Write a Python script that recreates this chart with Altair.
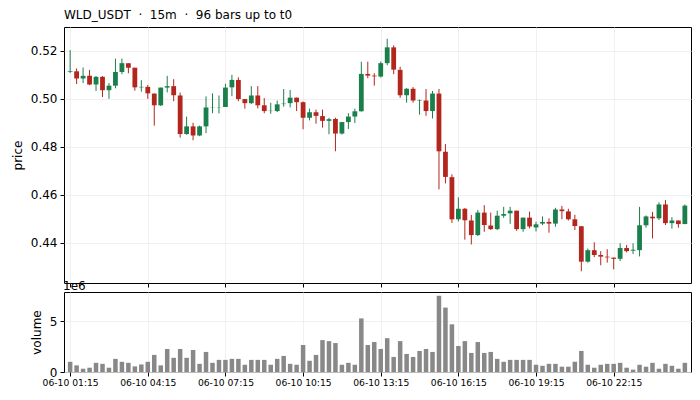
import altair as alt
import pandas as pd

NB = "\u00a0"
title_text = "WLD_USDT" + NB * 2 + "\u00b7" + NB * 2 + "15m" + NB * 2 + "\u00b7" + NB * 2 + "96 bars up to t0"

opens = [0.5112, 0.5115, 0.5085, 0.5096, 0.5060, 0.5092, 0.5036, 0.5055, 0.5112, 0.5149,
         0.5130, 0.5048, 0.5050, 0.5022, 0.4973, 0.5047, 0.5053, 0.5014, 0.4853, 0.4885,
         0.4847, 0.4885, 0.4964, 0.4965, 0.4966, 0.5048, 0.5079, 0.4999, 0.4982, 0.5014,
         0.4973, 0.4949, 0.4949, 0.4978, 0.4982, 0.5005, 0.4986, 0.4921, 0.4944, 0.4928,
         0.4908, 0.4916, 0.4855, 0.4903, 0.4926, 0.4948, 0.5104, 0.5097, 0.5093, 0.5149,
         0.5215, 0.5121, 0.5015, 0.5042, 0.4993, 0.4993, 0.4949, 0.5022, 0.4779, 0.4673,
         0.4497, 0.4541, 0.4492, 0.4431, 0.4525, 0.4471, 0.4456, 0.4512, 0.4522, 0.4533,
         0.4456, 0.4504, 0.4463, 0.4479, 0.4486, 0.4479, 0.4538, 0.4530, 0.4497, 0.4468,
         0.4320, 0.4368, 0.4348, 0.4341, 0.4337, 0.4332, 0.4377, 0.4366, 0.4368, 0.4472,
         0.4508, 0.4501, 0.4559, 0.4481, 0.4492, 0.4477]
highs = [0.5203, 0.5127, 0.5131, 0.5121, 0.5095, 0.5095, 0.5066, 0.5168, 0.5168, 0.5149,
         0.5130, 0.5078, 0.5058, 0.5022, 0.5047, 0.5096, 0.5082, 0.5026, 0.4926, 0.4900,
         0.4888, 0.5010, 0.5023, 0.5014, 0.5063, 0.5100, 0.5090, 0.4999, 0.5053, 0.5053,
         0.5003, 0.4984, 0.4993, 0.5041, 0.5037, 0.5005, 0.4989, 0.4959, 0.4955, 0.4955,
         0.4921, 0.4921, 0.4903, 0.4940, 0.4959, 0.5155, 0.5155, 0.5107, 0.5156, 0.5251,
         0.5223, 0.5134, 0.5045, 0.5049, 0.4997, 0.5041, 0.5033, 0.5041, 0.4811, 0.4685,
         0.4589, 0.4544, 0.4515, 0.4536, 0.4556, 0.4525, 0.4533, 0.4549, 0.4549, 0.4533,
         0.4504, 0.4529, 0.4487, 0.4509, 0.4501, 0.4545, 0.4553, 0.4541, 0.4516, 0.4468,
         0.4375, 0.4401, 0.4364, 0.4372, 0.4337, 0.4397, 0.4390, 0.4397, 0.4549, 0.4513,
         0.4528, 0.4568, 0.4578, 0.4506, 0.4492, 0.4559]
lows = [0.5108, 0.5062, 0.5066, 0.5057, 0.5033, 0.5008, 0.5000, 0.5044, 0.5103, 0.5107,
        0.5034, 0.5030, 0.5000, 0.4888, 0.4970, 0.5027, 0.4990, 0.4838, 0.4850, 0.4827,
        0.4844, 0.4857, 0.4940, 0.4939, 0.4966, 0.5011, 0.4990, 0.4959, 0.4978, 0.4960,
        0.4940, 0.4938, 0.4945, 0.4967, 0.4964, 0.4949, 0.4873, 0.4910, 0.4896, 0.4880,
        0.4852, 0.4781, 0.4851, 0.4874, 0.4899, 0.4947, 0.5086, 0.5055, 0.5089, 0.5140,
        0.5103, 0.5004, 0.4984, 0.4984, 0.4934, 0.4929, 0.4918, 0.4622, 0.4647, 0.4482,
        0.4488, 0.4412, 0.4392, 0.4427, 0.4445, 0.4452, 0.4452, 0.4503, 0.4478, 0.4449,
        0.4445, 0.4459, 0.4446, 0.4473, 0.4441, 0.4466, 0.4497, 0.4492, 0.4452, 0.4280,
        0.4316, 0.4339, 0.4305, 0.4316, 0.4288, 0.4323, 0.4359, 0.4352, 0.4342, 0.4462,
        0.4417, 0.4494, 0.4473, 0.4458, 0.4462, 0.4477]
closes = [0.5115, 0.5085, 0.5096, 0.5060, 0.5092, 0.5036, 0.5055, 0.5112, 0.5149, 0.5130,
          0.5048, 0.5050, 0.5023, 0.4973, 0.5047, 0.5053, 0.5015, 0.4853, 0.4885, 0.4847,
          0.4885, 0.4964, 0.4965, 0.4966, 0.5047, 0.5079, 0.4999, 0.4982, 0.5014, 0.4973,
          0.4949, 0.4950, 0.4977, 0.4980, 0.5005, 0.4986, 0.4921, 0.4944, 0.4929, 0.4908,
          0.4915, 0.4855, 0.4903, 0.4926, 0.4948, 0.5104, 0.5097, 0.5094, 0.5149, 0.5215,
          0.5122, 0.5015, 0.5042, 0.4993, 0.4995, 0.4949, 0.5022, 0.4781, 0.4674, 0.4497,
          0.4541, 0.4493, 0.4431, 0.4525, 0.4473, 0.4456, 0.4512, 0.4519, 0.4533, 0.4456,
          0.4504, 0.4467, 0.4476, 0.4486, 0.4479, 0.4538, 0.4531, 0.4497, 0.4469, 0.4320,
          0.4368, 0.4348, 0.4341, 0.4338, 0.4332, 0.4377, 0.4364, 0.4370, 0.4472, 0.4509,
          0.4501, 0.4559, 0.4481, 0.4492, 0.4477, 0.4554]
volumes_m = [1.0, 0.65, 0.32, 0.42, 0.9, 0.8, 0.42, 1.29, 1.0, 0.9,
             0.55, 0.74, 1.0, 1.68, 0.65, 2.26, 1.39, 2.26, 1.39, 2.16,
             0.8, 1.97, 0.9, 1.19, 1.19, 1.29, 1.29, 0.71, 1.19, 1.19,
             1.19, 0.71, 1.29, 1.58, 0.8, 0.71, 2.65, 1.1, 1.68, 3.13,
             3.03, 2.84, 0.71, 0.9, 0.71, 5.26, 2.65, 2.94, 2.26, 3.32,
             1.48, 3.03, 1.77, 1.48, 2.06, 2.26, 1.97, 7.48, 6.32, 4.68,
             2.55, 3.03, 1.87, 2.94, 1.87, 1.97, 1.29, 1.0, 1.19, 1.19,
             1.19, 1.19, 0.71, 0.61, 0.8, 0.8, 0.52, 0.52, 1.0, 2.06,
             0.71, 0.42, 0.71, 0.8, 0.8, 0.9, 0.42, 0.23, 0.71, 0.52,
             0.9, 0.32, 0.8, 0.61, 0.32, 0.9]
tick_labels = ["06-10 01:15", "06-10 04:15", "06-10 07:15", "06-10 10:15",
               "06-10 13:15", "06-10 16:15", "06-10 19:15", "06-10 22:15"]
tick_bars = [0, 12, 24, 36, 48, 60, 72, 84]
price_ticks = [0.44, 0.46, 0.48, 0.50, 0.52]

GREEN = "#1b7f4c"
RED = "#b3261e"
FONT = "DejaVu Sans"

df = pd.DataFrame({
    "i": list(range(len(opens))),
    "open": opens, "high": highs, "low": lows, "close": closes,
    "vol": [v * 1e6 for v in volumes_m],
})
df["dir"] = ["up" if c >= o else "down" for o, c in zip(opens, closes)]

x_scale = alt.Scale(domain=[-0.95, 95.95], nice=False, zero=False, padding=0)
label_expr = "[" + ",".join(f"'{t}'" for t in tick_labels) + "][round(datum.value/12)]"
color = alt.Color("dir:N", scale=alt.Scale(domain=["up", "down"], range=[GREEN, RED]), legend=None)

x_price = alt.X("i:Q", scale=x_scale,
                axis=alt.Axis(values=tick_bars, labels=False, title=None))
y_price = alt.Y("low:Q", scale=alt.Scale(domain=[0.4231, 0.5300], nice=False, zero=False, padding=0),
                axis=alt.Axis(values=price_ticks, format=".2f", title="price"))

base = alt.Chart(df)
wicks = base.mark_rule(strokeWidth=1).encode(x=x_price, y=y_price, y2="high:Q", color=color)
bodies = base.mark_bar(size=4.8).encode(x=x_price, y="open:Q", y2="close:Q", color=color)

price = alt.layer(wicks, bodies).properties(
    width=627, height=256,
    title=alt.TitleParams(title_text, anchor="start", frame="group", fontSize=12,
                          fontWeight="normal", font=FONT, offset=5, color="black"),
)

x_vol = alt.X("i:Q", scale=x_scale,
              axis=alt.Axis(values=tick_bars, labelExpr=label_expr, title=None,
                            labelFontSize=9.2, labelPadding=2))
vbars = base.mark_bar(size=4.5, color="#888888").encode(
    x=x_vol,
    y=alt.Y("vol:Q", scale=alt.Scale(domain=[0, 7.85e6], nice=False, padding=0),
            axis=alt.Axis(values=[0, 5e6], labelExpr="datum.value/1e6", title="volume")),
)
offset_txt = alt.Chart(pd.DataFrame({"t": ["1e6"]})).mark_text(
    align="left", baseline="alphabetic", fontSize=12, font=FONT, color="black"
).encode(text="t:N", x=alt.value(-1), y=alt.value(-2))

volume = alt.layer(vbars, offset_txt).properties(width=627, height=80)

chart = alt.vconcat(price, volume, spacing=9, bounds="flush").properties(
    padding={"left": 2, "top": 0, "right": 0, "bottom": 0}
).configure_view(
    stroke="black", strokeWidth=1
).configure_axis(
    domain=False, grid=True, gridColor="#ececec", gridWidth=0.8,
    tickColor="black", tickSize=4, tickWidth=1,
    labelFont=FONT, labelFontSize=12, labelColor="black", labelPadding=3,
    titleFont=FONT, titleFontSize=12, titleFontWeight="normal", titleColor="black",
    titlePadding=6,
)

chart.save("out.html", embed_options={"renderer": "svg", "actions": False})
